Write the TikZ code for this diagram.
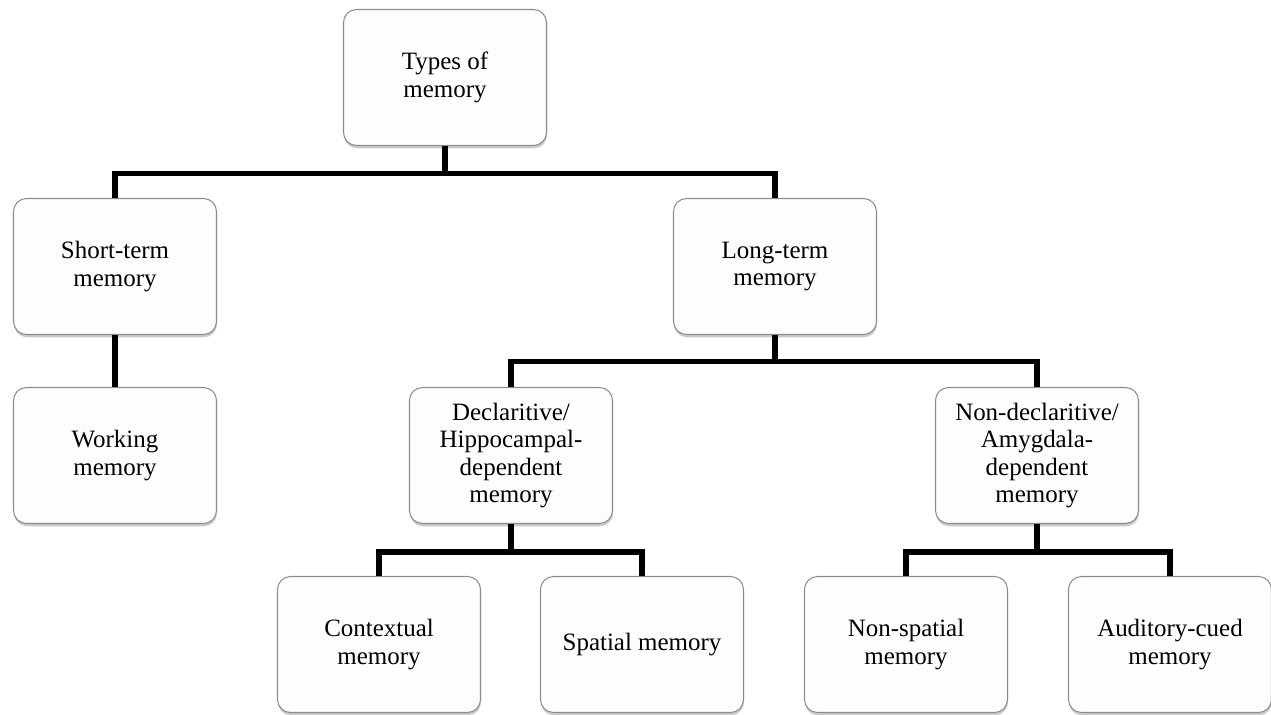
\documentclass[tikz,border=0pt]{standalone}
\usepackage{fontspec}
\setmainfont{Liberation Serif}
\usepackage{xcolor}
\usepackage{tikz}
\usetikzlibrary{positioning, shadows}
\definecolor{boxline}{HTML}{8C8C8C}
\definecolor{boxfill}{HTML}{FDFDFD}
\tikzstyle{memory} = [rectangle, rounded corners=0.26cm, minimum width=4.06cm, minimum height=2.72cm, text centered, align=center, draw=boxline, line width=0.6pt, fill=boxfill, drop shadow={shadow xshift=0.3pt, shadow yshift=-1.6pt, opacity=0.35, fill=black!60}, font=\fontsize{14.2}{15.5}\selectfont]
\tikzstyle{branch} = [line width=3.2pt, black]

\begin{document}
\begin{tikzpicture}[node distance=3.78cm]
        \useasboundingbox (0,0) rectangle (25.42,-14.3);

        % Root
        \node (types) [memory] at (8.9,-1.55) {Types of\\memory};

        % Second level
        \node (short) [memory, below of=types, xshift=-6.6cm] {Short-term\\memory};
        \node (long) [memory, below of=types, xshift=6.6cm] {Long-term\\memory};

        % Third level
        \node (working) [memory, below of=short] {Working\\memory};
        \node (decl) [memory, below of=long, xshift=-5.28cm] {Declaritive/\\Hippocampal-\\dependent\\memory};
        \node (nondecl) [memory, below of=long, xshift=5.24cm] {Non-declaritive/\\Amygdala-\\dependent\\memory};

        % Fourth level
        \node (context) [memory, below of=decl, xshift=-2.64cm] {Contextual\\memory};
        \node (spatial) [memory, below of=decl, xshift=2.62cm] {Spatial memory};
        \node (nonspatial) [memory, below of=nondecl, xshift=-2.62cm] {Non-spatial\\memory};
        \node (auditory) [memory, below of=nondecl, xshift=2.66cm] {Auditory-cued\\memory};

        % Branches
        \draw [branch] (types.south) -- ++(0,-0.55) -| (short.north);
        \draw [branch] (types.south) -- ++(0,-0.55) -| (long.north);
        \draw [branch] (short) -- (working);

        \draw [branch] (long.south) -- ++(0,-0.53) -| (decl.north);
        \draw [branch] (long.south) -- ++(0,-0.53) -| (nondecl.north);

        \draw [branch] (decl.south) -- ++(0,-0.56) -| (context.north);
        \draw [branch] (decl.south) -- ++(0,-0.56) -| (spatial.north);
        \draw [branch] (nondecl.south) -- ++(0,-0.56) -| (nonspatial.north);
        \draw [branch] (nondecl.south) -- ++(0,-0.56) -| (auditory.north);
    \end{tikzpicture}
\end{document}
